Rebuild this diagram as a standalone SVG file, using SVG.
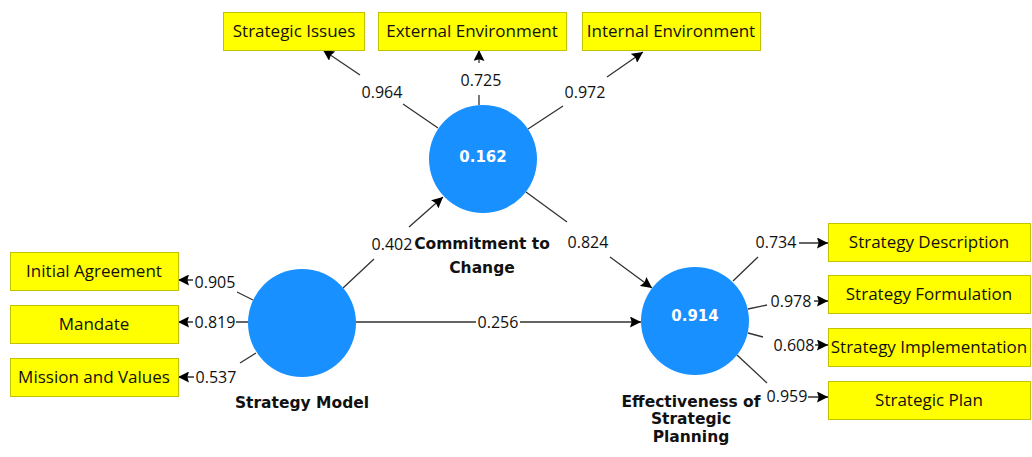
<svg xmlns="http://www.w3.org/2000/svg" width="1032" height="457" viewBox="0 0 1032 457">
  <defs>
    <marker id="arrow" viewBox="0 0 10 10" refX="10" refY="5" markerWidth="11" markerHeight="11" markerUnits="userSpaceOnUse" orient="auto">
      <path d="M0,0 L10,5 L0,10 L1.5,5 z" fill="#000"/>
    </marker>
    <style>
      .ind rect { fill: #ffff00; stroke: #c2c200; stroke-width: 1; }
      .ind text { font-family: "Open Sans", "Liberation Sans", sans-serif; font-size: 17px; fill: #111; text-anchor: middle; }
      .lv circle { fill: #1890ff; }
      .lv .r2 { font-family: "DejaVu Sans", sans-serif; font-weight: bold; font-size: 15px; fill: #ffffff; text-anchor: middle; }
      .lv .name { font-family: "DejaVu Sans", sans-serif; font-weight: bold; font-size: 15.5px; fill: #111; text-anchor: middle; }
      .edges path { fill: none; stroke: #333; stroke-width: 1.3; marker-end: url(#arrow); }
      .edges text { font-family: "Open Sans", "Liberation Sans", sans-serif; font-size: 16px; fill: #111; text-anchor: middle; }
    </style>
  </defs>

  <rect width="1032" height="457" fill="#ffffff"/>

  <!-- path coefficients and outer loadings -->
  <g id="connectors" class="edges">
    <path d="M438,128 L403,104 M360,75 L323,50"/>
    <text x="382" y="98">0.964</text>
    <path d="M479,105 L479,95 M479,63 L479,50"/>
    <text x="481" y="86">0.725</text>
    <path d="M528,129 L563,106 M607,77 L643,52"/>
    <text x="585" y="98">0.972</text>

    <path d="M343,288 L374,259 M409,227 L443,197"/>
    <text x="392" y="250">0.402</text>
    <path d="M526,192 L567,222 M610,257 L652,288"/>
    <text x="588" y="248">0.824</text>
    <path d="M356,322 L476,322 M520,322 L641,322"/>
    <text x="498" y="328">0.256</text>

    <path d="M253,300 L237,292 M193,280 L178,280"/>
    <text x="215" y="288">0.905</text>
    <path d="M248,322 L236,322 M193,322 L178,322"/>
    <text x="215" y="328">0.819</text>
    <path d="M256,353 L240,363 M194,377 L178,377"/>
    <text x="216" y="383">0.537</text>

    <path d="M733,281 L758,257 M799,243 L828,243"/>
    <text x="776" y="248">0.734</text>
    <path d="M748,309 L767,305 M814,301 L828,301"/>
    <text x="791" y="307">0.978</text>
    <path d="M748,333 L763,337 M815,345 L828,345"/>
    <text x="794" y="351">0.608</text>
    <path d="M737,355 L767,383 M808,397 L828,397"/>
    <text x="787" y="402">0.959</text>
  </g>

  <!-- latent variables -->
  <g id="commitment" class="lv">
    <circle cx="483" cy="159" r="54"/>
    <text class="r2" x="483" y="162">0.162</text>
    <text class="name" x="482" y="249">Commitment to</text>
    <text class="name" x="482" y="273">Change</text>
  </g>
  <g id="strategy-model" class="lv">
    <circle cx="302" cy="323" r="54"/>
    <text class="name" x="302" y="408">Strategy Model</text>
  </g>
  <g id="effectiveness" class="lv">
    <circle cx="695" cy="321" r="54"/>
    <text class="r2" x="695" y="321">0.914</text>
    <text class="name" x="691" y="407">Effectiveness of</text>
    <text class="name" x="691" y="424">Strategic</text>
    <text class="name" x="691" y="442">Planning</text>
  </g>

  <!-- indicators -->
  <g id="strategic-issues" class="ind">
    <rect x="223.5" y="12.5" width="141" height="38"/>
    <text x="294" y="37">Strategic Issues</text>
  </g>
  <g id="external-environment" class="ind">
    <rect x="378.5" y="12.5" width="188" height="38"/>
    <text x="472" y="37">External Environment</text>
  </g>
  <g id="internal-environment" class="ind">
    <rect x="582.5" y="12.5" width="178" height="38"/>
    <text x="671" y="37">Internal Environment</text>
  </g>
  <g id="initial-agreement" class="ind">
    <rect x="10.5" y="252.5" width="168" height="38"/>
    <text x="94" y="277">Initial Agreement</text>
  </g>
  <g id="mandate" class="ind">
    <rect x="10.5" y="305.5" width="168" height="38"/>
    <text x="94" y="330">Mandate</text>
  </g>
  <g id="mission-values" class="ind">
    <rect x="10.5" y="358.5" width="168" height="38"/>
    <text x="94" y="383">Mission and Values</text>
  </g>
  <g id="strategy-description" class="ind">
    <rect x="828.5" y="223.5" width="202" height="38"/>
    <text x="929" y="248">Strategy Description</text>
  </g>
  <g id="strategy-formulation" class="ind">
    <rect x="828.5" y="275.5" width="202" height="38"/>
    <text x="929" y="300">Strategy Formulation</text>
  </g>
  <g id="strategy-implementation" class="ind">
    <rect x="828.5" y="328.5" width="202" height="38"/>
    <text x="929" y="353">Strategy Implementation</text>
  </g>
  <g id="strategic-plan" class="ind">
    <rect x="828.5" y="381.5" width="202" height="38"/>
    <text x="929" y="406">Strategic Plan</text>
  </g>
</svg>
